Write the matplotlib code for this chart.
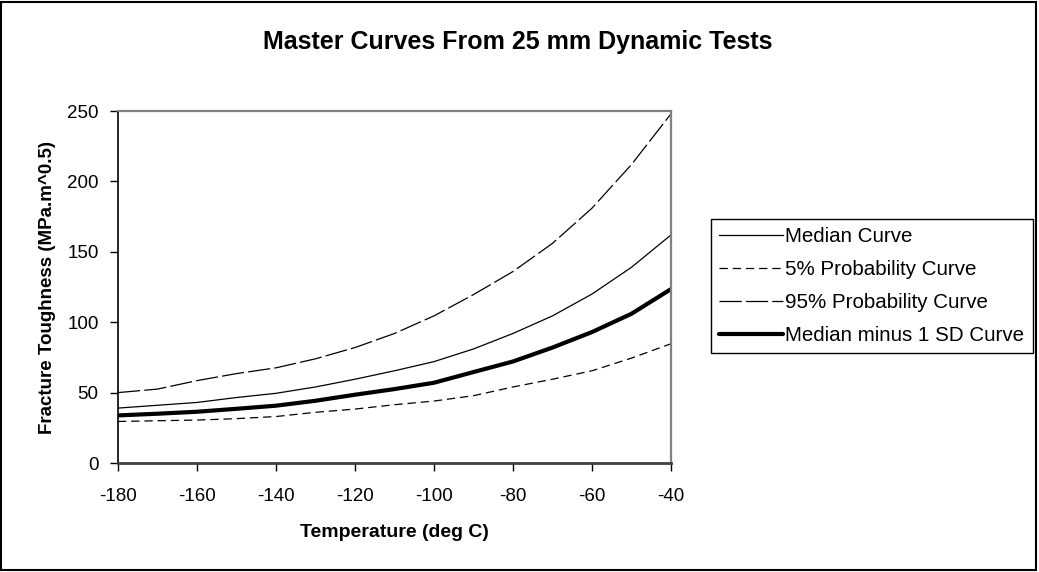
import matplotlib
matplotlib.use("Agg")
import matplotlib.pyplot as plt
from matplotlib.patches import Rectangle

plt.rcParams['font.family'] = ['Liberation Sans', 'DejaVu Sans']
plt.rcParams['lines.scale_dashes'] = False
plt.rcParams['axes.unicode_minus'] = False

temperature = [-180, -170, -160, -150, -140, -130, -120, -110, -100, -90, -80, -70, -60, -50, -40]
median_curve = [39, 41, 43, 46.5, 49.5, 54, 59.5, 65.5, 72, 81, 92, 104.5, 120, 139, 162]
p5_curve = [29.5, 30, 30.5, 31.5, 33, 36, 38.3, 41.4, 44, 47.8, 54, 59.5, 65.5, 74.5, 84.7]
p95_curve = [50, 52.5, 58.5, 63.5, 67.6, 74, 82, 92, 104.5, 119.6, 136, 156, 181, 212, 248]
median_minus_sd = [33.8, 35, 36.4, 38.5, 40.7, 44.2, 48.5, 52.5, 57, 64.6, 72.1, 82, 93, 106, 123.5]

x_ticks = [-180, -160, -140, -120, -100, -80, -60, -40]
y_ticks = [0, 50, 100, 150, 200, 250]

W, H = 1039, 572
fig = plt.figure(figsize=(W / 100, H / 100), dpi=100)
fig.patch.set_facecolor('white')

ax = fig.add_axes([118 / W, 1 - 463 / H, (671 - 118) / W, (463 - 111) / H])

l1, = ax.plot(temperature, median_curve, color='black', lw=0.9, label='Median Curve')
l2, = ax.plot(temperature, p5_curve, color='black', lw=0.9, dashes=(6, 3.5), label='5% Probability Curve')
l3, = ax.plot(temperature, p95_curve, color='black', lw=0.9, dashes=(16, 3), label='95% Probability Curve')
l4, = ax.plot(temperature, median_minus_sd, color='black', lw=3.0, solid_capstyle='round',
              label='Median minus 1 SD Curve')

ax.set_xlim(-180, -40)
ax.set_ylim(0, 250)
ax.set_xticks(x_ticks)
ax.set_yticks(y_ticks)
ax.tick_params(axis='both', direction='out', length=6, width=1, labelsize=13.5, colors='black')
ax.tick_params(axis='x', pad=12)
ax.tick_params(axis='y', pad=8)

for s in ['top', 'right']:
    ax.spines[s].set_color('#808080')
    ax.spines[s].set_linewidth(1.6)
ax.spines['left'].set_color('black')
ax.spines['left'].set_linewidth(1.2)
ax.spines['bottom'].set_color('#404040')
ax.spines['bottom'].set_linewidth(2.0)

ax.set_xlabel('Temperature (deg C)', fontsize=14, fontweight='bold', labelpad=14)
ax.set_ylabel('Fracture Toughness (MPa.m^0.5)', fontsize=13.5, fontweight='bold', labelpad=8)

fig.text(518 / W, 1 - 42 / H, 'Master Curves From 25 mm Dynamic Tests', fontsize=18,
         fontweight='bold', ha='center', va='center')

leg = fig.legend(handles=[l1, l2, l3, l4], loc='upper left',
                 bbox_to_anchor=(711 / W, 1 - 219 / H), fontsize=14.8,
                 frameon=True, fancybox=False, framealpha=1, edgecolor='black',
                 handlelength=3.1, handletextpad=0.12, labelspacing=0.68,
                 borderpad=0.4, borderaxespad=0)
leg.get_frame().set_linewidth(1.0)

fig.add_artist(Rectangle((1 / W, 2 / H), (W - 4) / W, (H - 4) / H, transform=fig.transFigure,
                         fill=False, edgecolor='black', lw=1.5))

fig.savefig('out.png', dpi=100, facecolor='white')
